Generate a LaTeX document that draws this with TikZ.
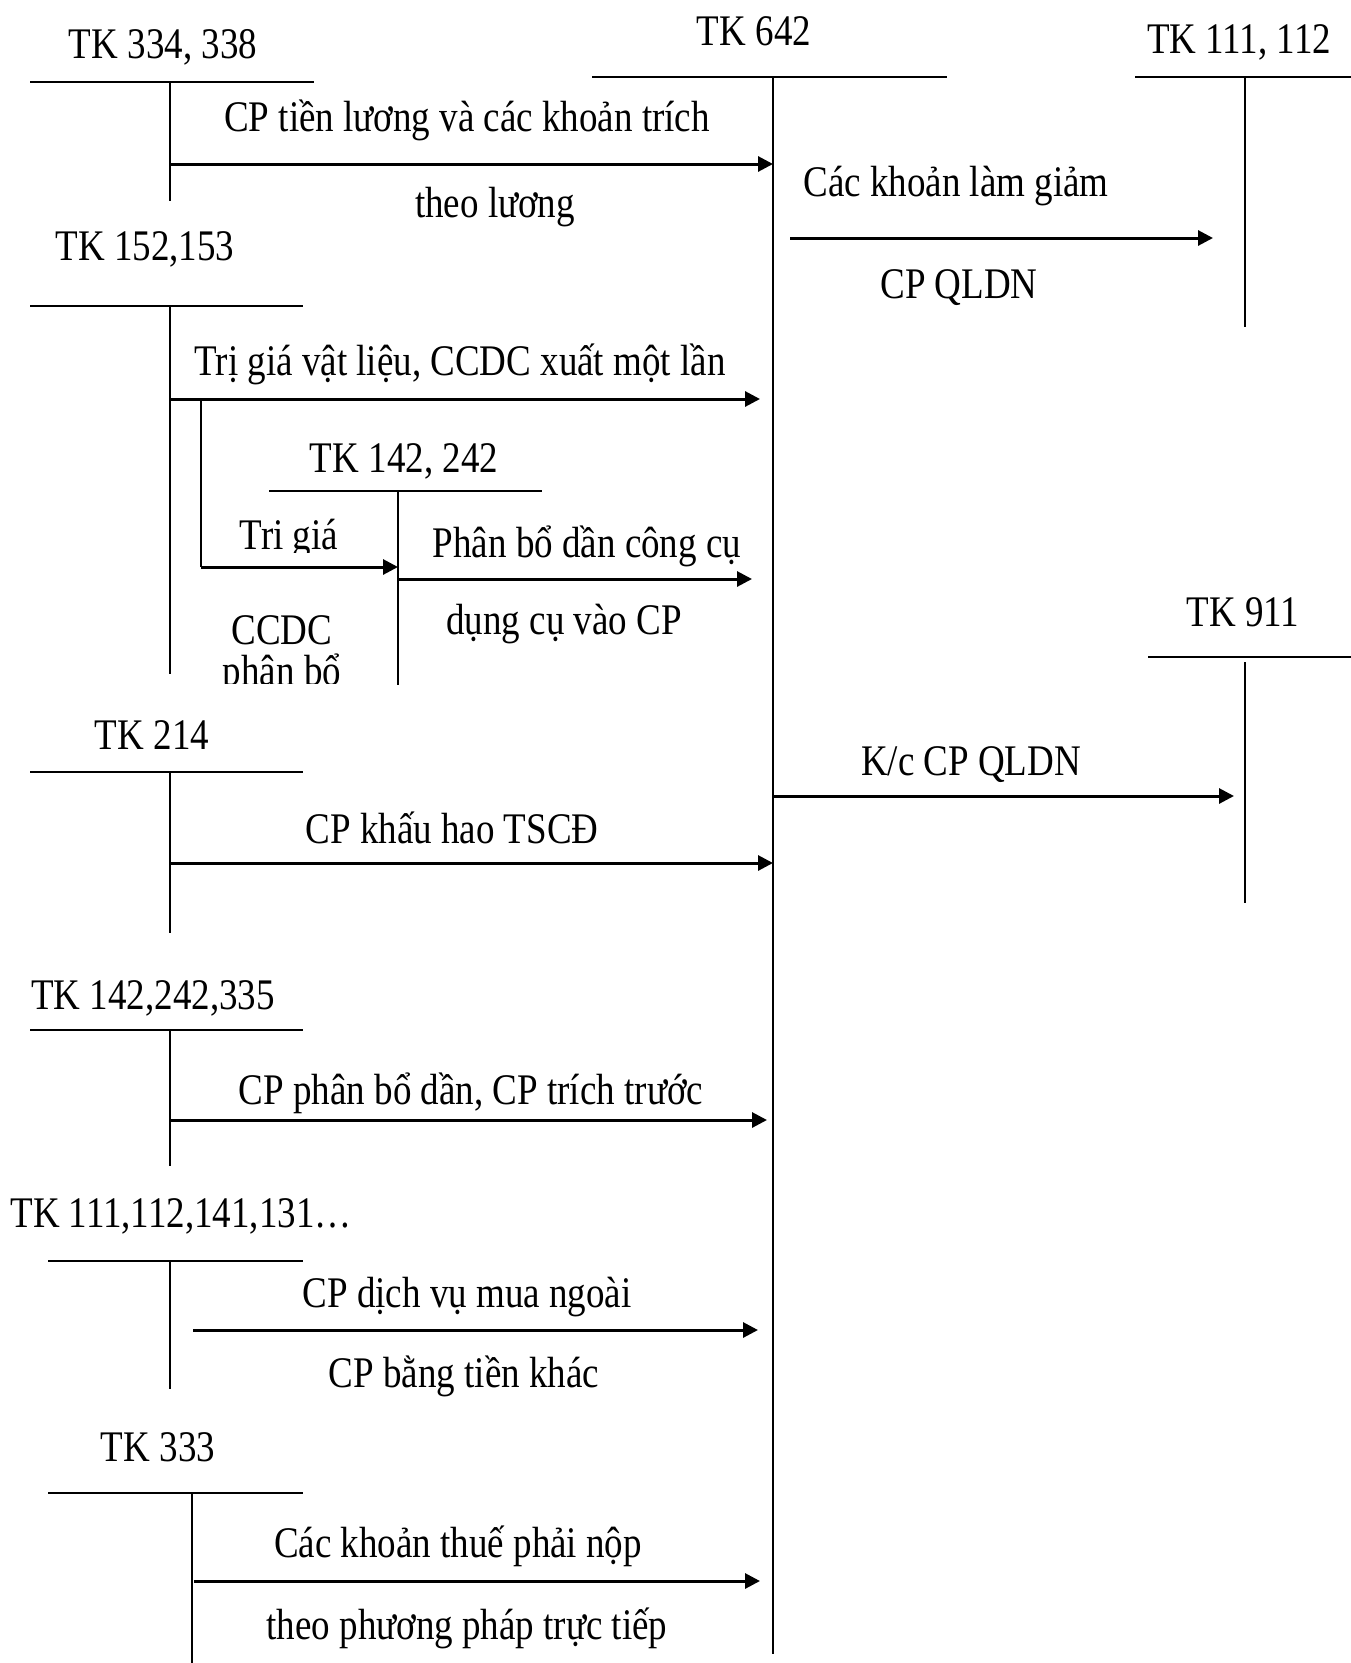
\documentclass[tikz,border=0pt]{standalone}
\usepackage{fontspec}
\setmainfont{Liberation Serif}
\usetikzlibrary{arrows.meta}
\begin{document}
\begin{tikzpicture}[x=1pt,y=-1pt,
  lbl/.style={font=\fontsize{37}{40}\selectfont, inner sep=0pt, anchor=base, yscale=1.18},
  tbar/.style={line width=2.6pt},
  stem/.style={line width=2.2pt},
  flow/.style={line width=3pt, -{Triangle[length=15pt,width=15pt]}}]
\useasboundingbox[fill=white] (0,0) rectangle (1351,1663);

% ---------- T-accounts: bar and stem ----------
% TK 642 (centre account)
\node[lbl] (n642) at (754,45) {TK 642};
\draw[tbar] (592,77) -- (947,77);
\coordinate (s642t) at (773,77); \coordinate (s642b) at (773,1654);
\draw[stem] (s642t) -- (s642b);

% TK 334, 338
\node[lbl] (n334) at (163,58) {TK 334, 338};
\draw[tbar] (30,82) -- (314,82);
\coordinate (s334t) at (170,82); \coordinate (s334b) at (170,201);
\draw[stem] (s334t) -- (s334b);

% TK 111, 112 (right)
\node[lbl] (n111) at (1239,53) {TK 111, 112};
\draw[tbar] (1135,77) -- (1351,77);
\coordinate (s111t) at (1245,77); \coordinate (s111b) at (1245,327);
\draw[stem] (s111t) -- (s111b);

% TK 152,153
\node[lbl] (n152) at (145,260) {TK 152,153};
\draw[tbar] (30,306) -- (303,306);
\coordinate (s152t) at (170,306); \coordinate (s152b) at (170,674);
\draw[stem] (s152t) -- (s152b);

% TK 142, 242
\node[lbl] (n142) at (404,472) {TK 142, 242};
\draw[tbar] (269,491) -- (542,491);
\coordinate (s142t) at (398,491); \coordinate (s142b) at (398,685);
\draw[stem] (s142t) -- (s142b);

% TK 911
\node[lbl] (n911) at (1243,626) {TK 911};
\draw[tbar] (1148,657) -- (1351,657);
\coordinate (s911t) at (1245,662); \coordinate (s911b) at (1245,903);
\draw[stem] (s911t) -- (s911b);

% TK 214
\node[lbl] (n214) at (152,749) {TK 214};
\draw[tbar] (30,772) -- (303,772);
\coordinate (s214t) at (170,772); \coordinate (s214b) at (170,933);
\draw[stem] (s214t) -- (s214b);

% TK 142,242,335
\node[lbl] (n335) at (153,1009) {TK 142,242,335};
\draw[tbar] (30,1030) -- (303,1030);
\coordinate (s335t) at (170,1030); \coordinate (s335b) at (170,1166);
\draw[stem] (s335t) -- (s335b);

% TK 111,112,141,131...
\node[lbl] (n131) at (181,1227) {TK 111,112,141,131…};
\draw[tbar] (48,1261) -- (303,1261);
\coordinate (s131t) at (170,1261); \coordinate (s131b) at (170,1389);
\draw[stem] (s131t) -- (s131b);

% TK 333
\node[lbl] (n333) at (158,1461) {TK 333};
\draw[tbar] (48,1493) -- (303,1493);
\coordinate (s333t) at (192,1493); \coordinate (s333b) at (192,1663);
\draw[stem] (s333t) -- (s333b);

% ---------- flows ----------
\coordinate (f1a) at (170,164);  \coordinate (f1b) at (773,164);
\draw[flow] (f1a) -- (f1b);
\node[lbl] (t1a) at (467,131) {CP tiền lương và các khoản trích};
\node[lbl] (t1b) at (495,217) {theo lương};

\coordinate (f2a) at (790,238);  \coordinate (f2b) at (1213,238);
\draw[flow] (f2a) -- (f2b);
\node[lbl] (t2a) at (956,196) {Các khoản làm giảm};
\node[lbl] (t2b) at (959,298) {CP QLDN};

\coordinate (f3a) at (170,399);  \coordinate (f3b) at (760,399);
\draw[flow] (f3a) -- (f3b);
\node[lbl] (t3) at (460,375) {Trị giá vật liệu, CCDC xuất một lần};

% branch to TK 142, 242
\coordinate (f4a) at (201,399);  \coordinate (f4k) at (201,567);
\coordinate (f4b) at (398,567);
\draw[stem] (f4a) -- (f4k);
\draw[flow] (f4k) -- (f4b);
\begin{scope}
  \clip (205,500) rectangle (394,552);
  \node[lbl] (t4a) at (289,549) {Tri giá};
\end{scope}
\begin{scope}
  \clip (205,600) rectangle (394,683);
  \node[lbl] (t4b) at (282,644) {CCDC};
  \node[lbl] (t4c) at (282,685) {phân bổ};
\end{scope}

\coordinate (f5a) at (398,579);  \coordinate (f5b) at (752,579);
\draw[flow] (f5a) -- (f5b);
\node[lbl] (t5a) at (587,557) {Phân bổ dần công cụ};
\node[lbl] (t5b) at (564,634) {dụng cụ vào CP};

\coordinate (f6a) at (773,796);  \coordinate (f6b) at (1234,796);
\draw[flow] (f6a) -- (f6b);
\node[lbl] (t6) at (971,775) {K/c CP QLDN};

\coordinate (f7a) at (170,863);  \coordinate (f7b) at (773,863);
\draw[flow] (f7a) -- (f7b);
\node[lbl] (t7) at (452,843) {CP khấu hao TSCĐ};

\coordinate (f8a) at (170,1120); \coordinate (f8b) at (767,1120);
\draw[flow] (f8a) -- (f8b);
\node[lbl] (t8) at (471,1104) {CP phân bổ dần, CP trích trước};

\coordinate (f9a) at (193,1330); \coordinate (f9b) at (758,1330);
\draw[flow] (f9a) -- (f9b);
\node[lbl] (t9a) at (467,1307) {CP dịch vụ mua ngoài};
\node[lbl] (t9b) at (464,1387) {CP bằng tiền khác};

\coordinate (f10a) at (194,1581); \coordinate (f10b) at (760,1581);
\draw[flow] (f10a) -- (f10b);
\node[lbl] (t10a) at (458,1557) {Các khoản thuế phải nộp};
\node[lbl] (t10b) at (467,1639) {theo phương pháp trực tiếp};
\end{tikzpicture}
\end{document}
